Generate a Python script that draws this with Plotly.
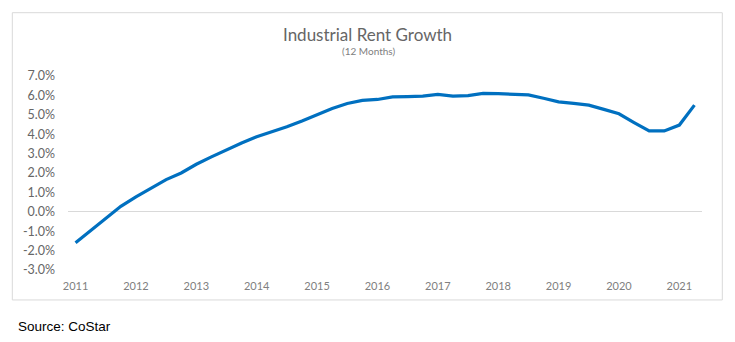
import plotly.graph_objects as go

# Quarterly data, 2011 Q1 .. 2021 Q2
quarters = [2011 + i * 0.25 for i in range(42)]
rent_growth = [
    -1.60, -0.97, -0.37, 0.28,
    0.77, 1.20, 1.66, 2.00,
    2.45, 2.83, 3.20, 3.55,
    3.87, 4.12, 4.38, 4.68,
    5.02, 5.32, 5.58, 5.74,
    5.79, 5.92, 5.94, 5.96,
    6.05, 5.96, 5.99, 6.10,
    6.09, 6.07, 6.03, 5.85,
    5.67, 5.59, 5.50, 5.28,
    5.05, 4.60, 4.17, 4.17,
    4.47, 5.50,
]
x_ticks = list(range(2011, 2022))
x_tick_labels = [str(y) for y in x_ticks]
y_ticks = list(range(-3, 8))
y_tick_labels = [f"{v:.1f}%" for v in y_ticks]

W, H = 735, 342
L, R, T, B = 68, 33, 75.7, 72
pw, ph = W - L - R, H - T - B

def px(x):
    return (x - L) / pw

def py(y):
    return (H - B - y) / ph

fig = go.Figure()
fig.add_trace(go.Scatter(
    x=quarters, y=rent_growth, mode="lines",
    line=dict(color="#0070C0", width=3.2),
    hoverinfo="skip", showlegend=False,
))

fig.update_layout(
    width=W, height=H,
    margin=dict(l=L, r=R, t=T, b=B, autoexpand=False),
    paper_bgcolor="white", plot_bgcolor="white",
    xaxis=dict(
        range=[2010.875, 2021.375],
        tickvals=x_ticks, ticktext=x_tick_labels,
        showgrid=False, zeroline=False, showline=False,
        tickfont=dict(family="Lato", size=11, color="#808080"),
        ticks="", ticklabelstandoff=8,
    ),
    yaxis=dict(
        range=[-3, 7],
        tickvals=y_ticks, ticktext=y_tick_labels,
        showgrid=False, zeroline=True, zerolinecolor="#d9d9d9", zerolinewidth=1,
        showline=False,
        tickfont=dict(family="Lato", size=12.5, color="#666666"),
        ticks="", ticklabelstandoff=12,
    ),
    shapes=[dict(
        type="rect", xref="paper", yref="paper",
        x0=px(12.3), x1=px(722.3), y0=py(300), y1=py(12.3),
        line=dict(color="#d9d9d9", width=1), layer="below",
    )],
    annotations=[
        dict(text="Industrial Rent Growth", xref="paper", yref="paper",
             x=px(367.5), y=py(34), xanchor="center", yanchor="middle",
             showarrow=False, font=dict(family="Lato", size=17, color="#666666")),
        dict(text="(12 Months)", xref="paper", yref="paper",
             x=px(368.5), y=py(51), xanchor="center", yanchor="middle",
             showarrow=False, font=dict(family="Lato", size=10, color="#808080")),
        dict(text="Source: CoStar", xref="paper", yref="paper",
             x=px(15.5), y=py(327), xanchor="left", yanchor="middle",
             showarrow=False, font=dict(family="Liberation Sans", size=13.5, color="#000000")),
    ],
)

fig.write_html("out.html")
